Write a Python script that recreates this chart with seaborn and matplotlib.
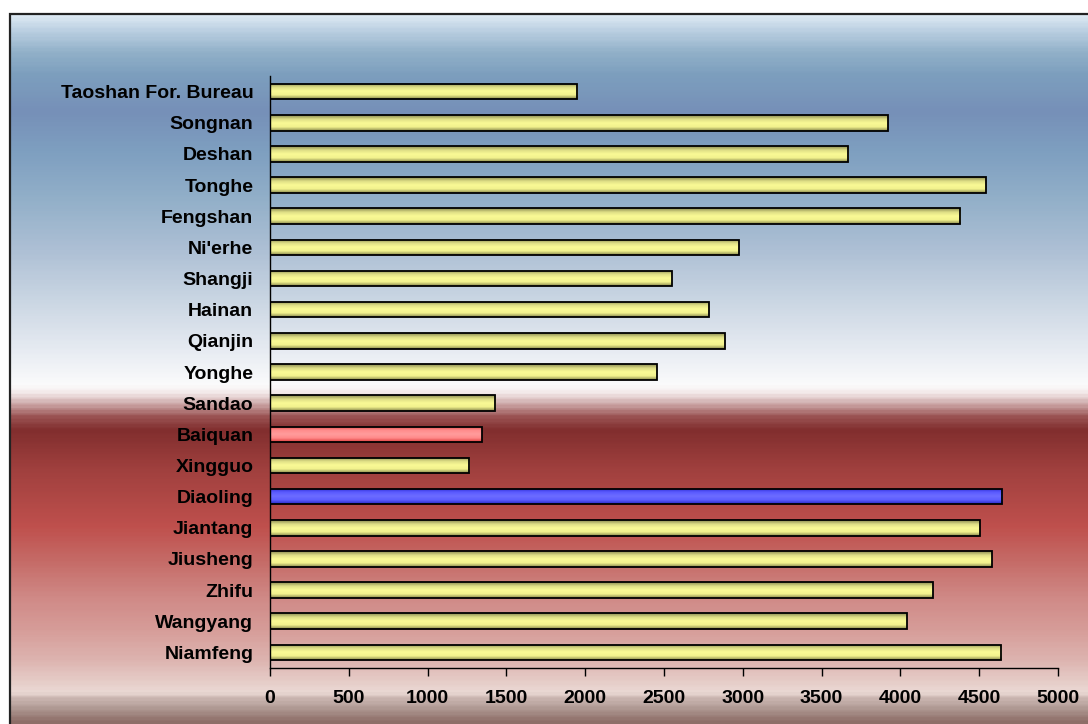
import matplotlib
matplotlib.use("Agg")
import matplotlib.pyplot as plt
import numpy as np
import pandas as pd
import seaborn as sns
from matplotlib.colors import LinearSegmentedColormap
from matplotlib.patches import Rectangle

# Donnees
stations = ["Taoshan For. Bureau", "Songnan", "Deshan", "Tonghe", "Fengshan",
            "Ni'erhe", "Shangji", "Hainan", "Qianjin", "Yonghe", "Sandao",
            "Baiquan", "Xingguo", "Diaoling", "Jiantang", "Jiusheng", "Zhifu",
            "Wangyang", "Niamfeng"]
values = [1950, 3920, 3670, 4540, 4380, 2975, 2550, 2785, 2885, 2455, 1430,
          1345, 1265, 4645, 4505, 4580, 4205, 4040, 4640]
highlight = {"Baiquan": "red", "Diaoling": "blue"}
xticks = [0, 500, 1000, 1500, 2000, 2500, 3000, 3500, 4000, 4500, 5000]

W, H = 1088, 724
sns.set_theme(style="white")
plt.rcParams["font.family"] = ["Liberation Sans", "DejaVu Sans"]

fig = plt.figure(figsize=(W / 100, H / 100), dpi=100)
fig.patch.set_facecolor("white")

# Fond en degrade (bleu en haut, rouge en bas)
bg_stops = [
    (14, "#dbe8f2"), (30, "#b8cde0"), (50, "#92b1c9"), (72, "#7d9fbe"),
    (110, "#7690b8"), (150, "#7e9fc0"), (200, "#93b0c9"), (250, "#aec0d5"),
    (300, "#cad6e3"), (340, "#e1e7ef"), (385, "#fbfbfc"), (392, "#f6eeee"),
    (405, "#c9a2a2"), (418, "#985050"), (430, "#812e2e"), (470, "#a0403e"),
    (528, "#bf504d"), (562, "#c56b67"), (600, "#d08a87"), (630, "#d69c98"),
    (662, "#ddb4b0"), (695, "#ebdad5"), (700, "#cdb8b3"), (710, "#b09a94"),
    (724, "#8e6e68"),
]
y_top = bg_stops[0][0]
pos = [(p - y_top) / (H - y_top) for p, _ in bg_stops]
bg_cmap = LinearSegmentedColormap.from_list("bg", list(zip(pos, [c for _, c in bg_stops])))
bg_ax = fig.add_axes([10 / W, 0, 1 - 10 / W, 1 - y_top / H], zorder=-1)
bg_ax.imshow(np.linspace(0, 1, 400).reshape(-1, 1), cmap=bg_cmap, aspect="auto",
             extent=[0, 1, 0, 1], origin="upper")
bg_ax.axis("off")
fig.patches.append(Rectangle((10 / W, -0.01), 1.0, 1 - y_top / H + 0.01, fill=False,
                             edgecolor="#222222", linewidth=1.6,
                             transform=fig.transFigure, figure=fig))

# Graphique principal
ax = fig.add_axes([270 / W, 1 - 668 / H, 788 / W, 592 / H])
ax.set_facecolor("none")

df = pd.DataFrame({"station": stations, "value": values})
base_colors = {"yellow": "#ffff99", "red": "#ff8a8a", "blue": "#6464ff"}
bar_kind = [highlight.get(s, "yellow") for s in stations]
palette = {s: base_colors[k] for s, k in zip(stations, bar_kind)}

sns.barplot(data=df, x="value", y="station", hue="station", palette=palette,
            legend=False, orient="h", width=0.5, edgecolor="black",
            linewidth=1.3, ax=ax)

def bar_gradient(kind):
    if kind == "yellow":
        stops = ["#8c8c52", "#dede86", "#fafa96", "#f2f28e", "#8a8a4e"]
    elif kind == "red":
        stops = ["#e04848", "#ff8c8c", "#ff9c9c", "#ff8a8a", "#e04040"]
    else:
        stops = ["#2e2ed0", "#5a5aff", "#6c6cff", "#5e5eff", "#2a2ac8"]
    cm = LinearSegmentedColormap.from_list(kind, stops)
    return cm(np.linspace(0, 1, 40).reshape(-1, 1))

for patch, kind in zip(ax.patches, bar_kind):
    x0, y0 = patch.get_x(), patch.get_y()
    w, h = patch.get_width(), patch.get_height()
    patch.set_facecolor("none")
    patch.set_zorder(3)
    im = ax.imshow(bar_gradient(kind), extent=[x0, x0 + w, y0 + h, y0],
                   origin="upper", aspect="auto", zorder=2.5)
    im.set_clip_path(patch)

ax.set_xlim(0, 5000)
ax.set_ylim(len(stations) - 0.5, -0.5)
ax.set_aspect("auto")
ax.set_xticks(xticks)
ax.set_xticklabels([str(t) for t in xticks])
ax.set_xlabel("")
ax.set_ylabel("")

for side in ["top", "right"]:
    ax.spines[side].set_visible(False)
for side in ["left", "bottom"]:
    ax.spines[side].set_color("black")
    ax.spines[side].set_linewidth(1.0)

ax.tick_params(axis="x", bottom=True, direction="out", length=6, width=1.0,
               color="black", pad=10, labelsize=14)
ax.tick_params(axis="y", left=False, length=0, pad=12, labelsize=14)
for lbl in ax.get_xticklabels() + ax.get_yticklabels():
    lbl.set_fontweight("bold")
    lbl.set_color("black")

fig.savefig("out.png", dpi=100)
